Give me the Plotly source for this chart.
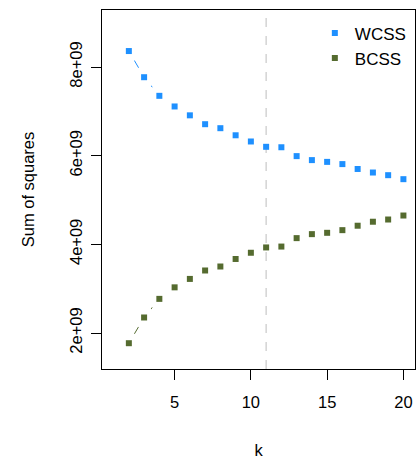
import plotly.graph_objects as go

k = list(range(2, 21))
wcss = [8.36e9, 7.77e9, 7.35e9, 7.11e9, 6.91e9, 6.71e9, 6.62e9, 6.46e9, 6.32e9, 6.20e9,
        6.19e9, 5.99e9, 5.90e9, 5.86e9, 5.81e9, 5.70e9, 5.62e9, 5.56e9, 5.47e9]
bcss = [1.77e9, 2.35e9, 2.77e9, 3.03e9, 3.22e9, 3.41e9, 3.50e9, 3.67e9, 3.81e9, 3.93e9,
        3.95e9, 4.14e9, 4.23e9, 4.26e9, 4.32e9, 4.42e9, 4.51e9, 4.56e9, 4.65e9]
best_k = 11
x_ticks = [5, 10, 15, 20]
y_ticks = [2e9, 4e9, 6e9, 8e9]
y_tick_labels = ["2e+09", "4e+09", "6e+09", "8e+09"]
x_range = [0.24, 20.76]
y_range = [1.188e9, 9.286e9]

BLUE = "#1E90FF"
GREEN = "#556B2F"
FONT = "Liberation Sans, Arial, Helvetica, sans-serif"

fig = go.Figure()
series = [("WCSS", wcss, BLUE), ("BCSS", bcss, GREEN)]
# connecting lines
for name, vals, col in series:
    fig.add_trace(go.Scatter(x=k, y=vals, mode="lines", line=dict(color=col, width=1),
                             showlegend=False, hoverinfo="skip"))
# white halos to create gaps (R type="b")
for name, vals, col in series:
    fig.add_trace(go.Scatter(x=k, y=vals, mode="markers",
                             marker=dict(symbol="circle", size=22, color="white", line=dict(width=0)),
                             showlegend=False, hoverinfo="skip"))
# dashed vertical line at chosen k
fig.add_trace(go.Scatter(x=[best_k, best_k], y=y_range, mode="lines",
                         line=dict(color="#C8C8C8", width=1.2, dash="dash"),
                         showlegend=False, hoverinfo="skip"))
for name, vals, col in series:
    fig.add_trace(go.Scatter(x=k, y=vals, mode="markers", name=name,
                             marker=dict(symbol="square", size=6, color=col, line=dict(width=0))))

axis_common = dict(showline=True, linecolor="black", linewidth=1, mirror=True,
                   ticks="outside", ticklen=10, tickcolor="black", tickwidth=1,
                   showgrid=False, zeroline=False,
                   tickfont=dict(family=FONT, size=16.5, color="black"))

fig.update_layout(
    width=417, height=459,
    margin=dict(l=102, r=2, t=10, b=90),
    paper_bgcolor="white", plot_bgcolor="white",
    font=dict(family=FONT, size=16.5, color="black"),
    xaxis=dict(range=x_range, tickvals=x_ticks, ticklabelstandoff=8,
               title=dict(text="k", standoff=34, font=dict(size=16.5)), **axis_common),
    yaxis=dict(range=y_range, tickvals=y_ticks, ticktext=y_tick_labels, tickangle=-90,
               ticklabelstandoff=2,
               title=dict(text="Sum of squares", standoff=28, font=dict(size=16.5)), **axis_common),
    legend=dict(x=0.68, y=0.985, xanchor="left", yanchor="top", bgcolor="rgba(0,0,0,0)",
                font=dict(size=17), itemwidth=30, tracegroupgap=0),
    showlegend=True,
)

fig.write_html("out.html")
